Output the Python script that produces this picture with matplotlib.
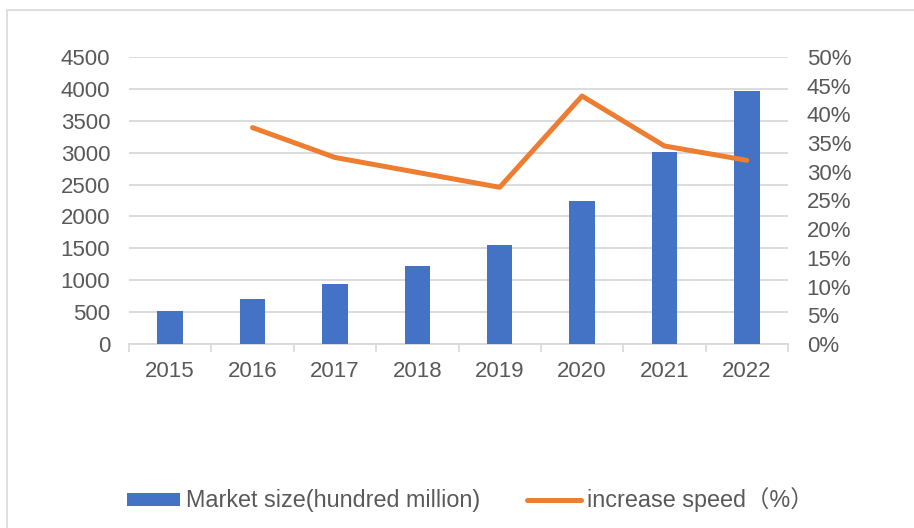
import matplotlib
matplotlib.use("Agg")
import matplotlib.pyplot as plt
from matplotlib.patches import Rectangle
from matplotlib.ticker import FuncFormatter, MultipleLocator, FixedLocator

years = ["2015", "2016", "2017", "2018", "2019", "2020", "2021", "2022"]
market_size = [510, 710, 940, 1220, 1555, 2235, 3010, 3970]
growth_years = ["2016", "2017", "2018", "2019", "2020", "2021", "2022"]
growth_pct = [37.7, 32.5, 29.9, 27.3, 43.2, 34.5, 32.0]

BLUE = "#4472C4"
ORANGE = "#ED7D31"
GRID = "#D9D9D9"
TXT = "#595959"
FONT = ["Liberation Sans", "Noto Sans CJK SC", "DejaVu Sans"]
plt.rcParams["font.family"] = FONT
FS = 16

fig = plt.figure(figsize=(9.14, 5.28), dpi=100)
fig.patches.append(Rectangle((7 / 914, -0.05), 1.2, 1 - 10 / 528 + 0.05,
                             transform=fig.transFigure, fill=False,
                             edgecolor=GRID, linewidth=1.2, zorder=0))

ax = fig.add_axes([129 / 914, 1 - 344 / 528, (788 - 129) / 914, (344 - 57) / 528])
x = list(range(len(years)))
bars = ax.bar(x, market_size, width=0.31, color=BLUE, zorder=3,
              label="Market size(hundred million)")
ax.set_xlim(-0.5, len(years) - 0.5)
ax.set_ylim(0, 4500)
ax.yaxis.set_major_locator(MultipleLocator(500))
ax.set_xticks(x)
ax.set_xticklabels(years)
ax.xaxis.set_minor_locator(FixedLocator([i - 0.5 for i in range(len(years) + 1)]))
ax.tick_params(axis="x", which="major", length=0, pad=12.5, labelsize=FS, labelcolor=TXT)
ax.tick_params(axis="x", which="minor", length=6, color=GRID, width=1.2)
ax.tick_params(axis="y", length=0, pad=13.5, labelsize=FS, labelcolor=TXT)
ax.grid(axis="y", color=GRID, linewidth=1.3, zorder=0)
for s in ["top", "right", "left"]:
    ax.spines[s].set_visible(False)
ax.spines["bottom"].set_color(GRID)
ax.spines["bottom"].set_linewidth(1.3)

ax2 = ax.twinx()
gx = [years.index(y) for y in growth_years]
line, = ax2.plot(gx, growth_pct, color=ORANGE, linewidth=3.6,
                 solid_capstyle="round", solid_joinstyle="round", zorder=4,
                 label="increase speed（%）")
ax2.set_ylim(0, 50)
ax2.yaxis.set_major_locator(MultipleLocator(5))
ax2.yaxis.set_major_formatter(FuncFormatter(lambda v, p: f"{v:.0f}%"))
ax2.tick_params(axis="y", length=0, pad=13.5, labelsize=FS, labelcolor=TXT)
for s in ["top", "right", "left", "bottom"]:
    ax2.spines[s].set_visible(False)

leg = fig.legend([bars, line], ["Market size(hundred million)", "increase speed（%）"],
                 loc="center", bbox_to_anchor=(470 / 914, 1 - 500 / 528), ncol=2,
                 frameon=False, fontsize=16.8, handlelength=2.3, handletextpad=0.25,
                 columnspacing=2.0, handleheight=0.5)
for t in leg.get_texts():
    t.set_color(TXT)

fig.savefig("out.png", dpi=100)
